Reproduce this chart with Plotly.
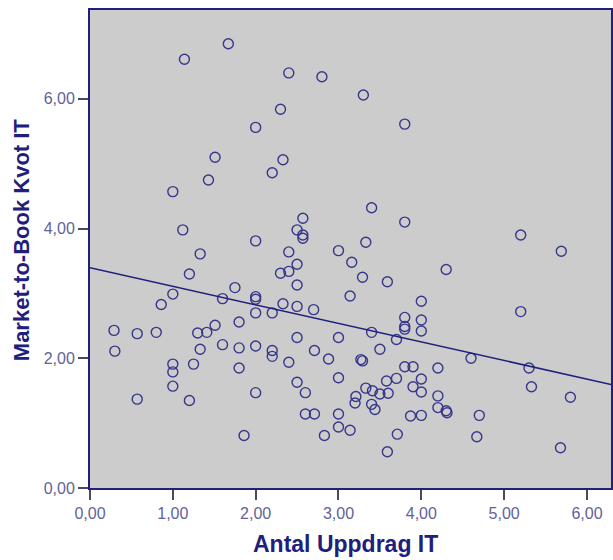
import numpy as np
import plotly.graph_objects as go

# Antal Uppdrag IT (x) and Market-to-Book Kvot IT (y)
antal_uppdrag = [
    1.14, 1.67, 2.40, 2.80, 3.30, 2.30, 3.80, 2.00, 1.51, 2.33, 2.20, 1.43, 1.00, 3.40,
    2.57, 3.80, 1.12, 2.50, 2.57, 2.57, 5.20, 2.00, 3.33, 3.00, 5.69, 2.40, 1.33, 3.16,
    2.50, 4.30, 2.40, 2.30, 1.20, 3.29, 3.59, 2.50, 1.75,
    1.00, 3.14, 2.00, 2.00, 1.60, 4.00, 2.33, 0.86, 2.50, 2.70, 5.20, 2.00, 2.20, 3.80,
    4.00, 1.80, 1.51, 3.80, 3.80, 0.29, 4.00, 0.80, 1.41, 3.40, 1.30, 0.57, 2.50, 3.00,
    3.70, 1.60, 2.00, 1.80, 3.50, 1.33, 2.20, 2.71, 0.30, 2.20, 4.60, 2.88, 3.27, 3.29,
    2.40, 1.25, 1.00, 3.80, 3.90, 1.80, 4.20, 5.30, 1.00, 3.00, 3.70, 4.00, 3.58, 2.50,
    1.00, 3.90, 5.33, 3.33, 3.41, 4.00, 2.00, 2.60, 3.50, 3.60, 4.20, 3.21, 5.80, 0.57,
    1.20, 3.20, 3.40, 4.20, 3.44, 4.30, 4.31, 2.60, 2.71, 3.00, 4.70, 4.00, 3.87, 3.00,
    3.14, 3.71, 2.83, 1.86, 4.67, 5.68, 3.59,
]
mtb_kvot = [
    6.61, 6.85, 6.40, 6.34, 6.06, 5.84, 5.61, 5.56, 5.10, 5.06, 4.86, 4.75, 4.57, 4.32,
    4.16, 4.10, 3.98, 3.98, 3.90, 3.85, 3.90, 3.81, 3.79, 3.66, 3.65, 3.64, 3.61, 3.48,
    3.45, 3.37, 3.34, 3.31, 3.30, 3.25, 3.18, 3.13, 3.09,
    2.99, 2.96, 2.95, 2.91, 2.92, 2.88, 2.84, 2.83, 2.80, 2.75, 2.72, 2.70, 2.70, 2.63,
    2.59, 2.56, 2.51, 2.49, 2.45, 2.43, 2.42, 2.40, 2.40, 2.40, 2.39, 2.38, 2.32, 2.32,
    2.29, 2.21, 2.19, 2.16, 2.14, 2.14, 2.12, 2.12, 2.11, 2.03, 2.00, 1.99, 1.98, 1.96,
    1.94, 1.91, 1.91, 1.87, 1.87, 1.85, 1.85, 1.85, 1.79, 1.70, 1.69, 1.68, 1.65, 1.63,
    1.57, 1.56, 1.56, 1.54, 1.50, 1.48, 1.47, 1.47, 1.45, 1.46, 1.42, 1.41, 1.40, 1.37,
    1.35, 1.31, 1.29, 1.24, 1.21, 1.19, 1.16, 1.14, 1.14, 1.14, 1.12, 1.12, 1.11, 0.94,
    0.89, 0.83, 0.81, 0.81, 0.79, 0.62, 0.56,
]

x_ticks = [0, 1, 2, 3, 4, 5, 6]
y_ticks = [0, 2, 4, 6]
x_range = [0, 6.29]
y_range = [0, 7.37]

x_title = "Antal Uppdrag IT"
y_title = "Market-to-Book Kvot IT"

navy = "#20207c"
marker_col = "#36368c"
tick_col = "#62629a"

# least-squares fit line
slope, intercept = np.polyfit(antal_uppdrag, mtb_kvot, 1)
fit_x = np.array(x_range)
fit_y = intercept + slope * fit_x

fig = go.Figure()
fig.add_trace(go.Scatter(
    x=antal_uppdrag, y=mtb_kvot, mode="markers",
    marker=dict(symbol="circle-open", size=10, color=marker_col,
                line=dict(width=1.4, color=marker_col)),
    showlegend=False, hoverinfo="x+y",
))
fig.add_trace(go.Scatter(
    x=fit_x, y=fit_y, mode="lines",
    line=dict(color=navy, width=1.5), showlegend=False,
))

axis_common = dict(
    showgrid=False, zeroline=False, showline=True, mirror=True,
    linecolor=navy, linewidth=2, ticks="outside", ticklen=10, tickwidth=2,
    tickcolor="#4a4a5a", tickformat=".2f",
    tickfont=dict(family="Liberation Sans, Arial", size=16, color=tick_col),
)
fig.update_xaxes(range=x_range, tickvals=x_ticks, **axis_common)
fig.update_yaxes(range=y_range, tickvals=y_ticks, **axis_common)

fig.update_layout(
    width=613, height=560,
    margin=dict(l=90, r=0, t=10, b=72),
    plot_bgcolor="#cccccc", paper_bgcolor="white",
    separators=", ",
    annotations=[
        dict(text=x_title, xref="paper", yref="paper", x=0.49, y=-0.118,
             xanchor="center", yanchor="middle", showarrow=False,
             font=dict(family="Liberation Sans, Arial", size=23, color=navy, weight="bold")),
        dict(text=y_title, xref="paper", yref="paper", x=-0.131, y=0.52,
             xanchor="center", yanchor="middle", showarrow=False, textangle=-90,
             font=dict(family="Liberation Sans, Arial", size=22, color=navy, weight="bold")),
    ],
)

fig.write_html("out.html")
